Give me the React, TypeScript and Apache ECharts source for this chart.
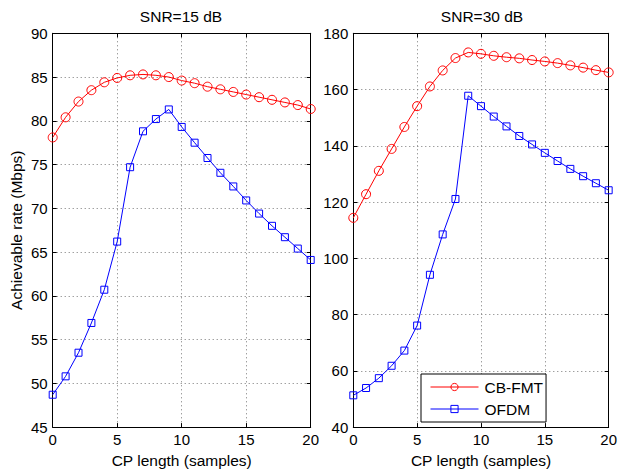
import React, { useEffect, useRef } from "react";
import * as echarts from "echarts";

const cpLength = [0, 1, 2, 3, 4, 5, 6, 7, 8, 9, 10, 11, 12, 13, 14, 15, 16, 17, 18, 19, 20];
const cbfmt15 = [78.1, 80.4, 82.2, 83.5, 84.4, 84.9, 85.2, 85.3, 85.2, 85.0, 84.6, 84.3, 83.9, 83.6, 83.3, 83.0, 82.7, 82.4, 82.1, 81.8, 81.35];
const ofdm15 = [48.7, 50.8, 53.5, 56.9, 60.7, 66.2, 74.7, 78.8, 80.2, 81.3, 79.3, 77.5, 75.75, 74.06, 72.5, 70.9, 69.4, 68.0, 66.7, 65.4, 64.1];
const cbfmt30 = [114.4, 122.8, 131.1, 138.9, 146.7, 154.1, 161.1, 166.8, 171.2, 173.2, 172.7, 172.0, 171.5, 171.1, 170.5, 170.0, 169.4, 168.6, 167.8, 166.9, 166.1];
const ofdm30 = [51.3, 53.9, 57.4, 61.8, 67.2, 76.1, 94.15, 108.5, 121.1, 157.8, 154.1, 150.4, 146.9, 143.5, 140.5, 137.5, 134.6, 131.8, 129.2, 126.7, 124.2];
const titles = ["SNR=15 dB", "SNR=30 dB"];
const seriesNames = ["CB-FMT", "OFDM"];
const xName = "CP length (samples)";
const yName = "Achievable rate (Mbps)";

const FONT = "Liberation Sans, Arial, Helvetica, sans-serif";

export default function App() {
  const ref = useRef<HTMLDivElement>(null);
  useEffect(() => {
    document.body.style.margin = "0";
    if (!ref.current) return;
    const chart = echarts.init(ref.current, null, { renderer: "svg" });
    const pair = (xs: number[], ys: number[]) => xs.map((x, i) => [x, ys[i]]);
    const splitLine = { show: true, lineStyle: { color: "#777", type: [1, 3] as any, width: 1 } };
    const axisLine = { show: true, onZero: false, lineStyle: { color: "#000", width: 1 } };
    const axisTick = { show: true, inside: true, length: 4, lineStyle: { color: "#000" } };
    const labelStyle = { color: "#000", fontSize: 15, fontFamily: FONT };

    const mkX = (gi: number) => [
      {
        type: "value", gridIndex: gi, min: 0, max: 20, interval: 5, position: "bottom",
        axisLine, axisTick, splitLine,
        axisLabel: { ...labelStyle, margin: 5 },
        name: xName, nameLocation: "middle", nameGap: 22,
        nameTextStyle: { color: "#000", fontSize: 15.5, fontFamily: FONT },
      },
      {
        type: "value", gridIndex: gi, min: 0, max: 20, interval: 5, position: "top",
        axisLine, axisTick, splitLine: { show: false }, axisLabel: { show: false },
      },
    ];
    const mkY = (gi: number, min: number, max: number, interval: number, named: boolean) => [
      {
        type: "value", gridIndex: gi, min, max, interval, position: "left",
        axisLine, axisTick, splitLine,
        axisLabel: { ...labelStyle, margin: 5 },
        name: named ? yName : "", nameLocation: "middle", nameGap: 28,
        nameTextStyle: { color: "#000", fontSize: 15.5, fontFamily: FONT },
      },
      {
        type: "value", gridIndex: gi, min, max, interval, position: "right",
        axisLine, axisTick, splitLine: { show: false }, axisLabel: { show: false },
      },
    ];
    const mkSeries = (name: string, data: number[][], color: string, symbol: string, size: number, xi: number, yi: number) => ({
      type: "line", name, data, xAxisIndex: xi, yAxisIndex: yi,
      symbol, symbolSize: size, showAllSymbol: true,
      lineStyle: { color, width: 1 },
      itemStyle: { color: "rgba(255,255,255,0)", borderColor: color, borderWidth: 1 },
      emphasis: { disabled: true },
    });

    chart.setOption({
      animation: false,
      backgroundColor: "#fff",
      title: [
        { text: titles[0], left: 181, top: 8, padding: 0, textAlign: "center", textStyle: { color: "#000", fontSize: 15.5, fontWeight: "normal", fontFamily: FONT } },
        { text: titles[1], left: 482, top: 8, padding: 0, textAlign: "center", textStyle: { color: "#000", fontSize: 15.5, fontWeight: "normal", fontFamily: FONT } },
      ],
      grid: [
        { left: 52.7, top: 33.3, width: 258, height: 398.7 },
        { left: 353.3, top: 33.3, width: 258.4, height: 398.7 },
      ],
      xAxis: [...mkX(0), ...mkX(1)],
      yAxis: [...mkY(0, 45, 90, 5, true), ...mkY(1, 40, 180, 20, false)],
      legend: {
        left: 421, top: 374, orient: "vertical",
        data: seriesNames,
        itemWidth: 48, itemHeight: 9, itemGap: 6,
        padding: [5, 3, 5, 9],
        lineStyle: { width: 1 },
        itemStyle: { borderWidth: 1 },
        borderColor: "#000", borderWidth: 1, backgroundColor: "#fff",
        textStyle: { color: "#000", fontSize: 15.5, fontFamily: FONT, padding: [0, 0, 0, 1] },
      },
      series: [
        mkSeries(seriesNames[0], pair(cpLength, cbfmt15), "#ff0000", "circle", 9, 0, 0),
        mkSeries(seriesNames[1], pair(cpLength, ofdm15), "#0000ff", "rect", 7, 0, 0),
        mkSeries(seriesNames[0], pair(cpLength, cbfmt30), "#ff0000", "circle", 9, 2, 2),
        mkSeries(seriesNames[1], pair(cpLength, ofdm30), "#0000ff", "rect", 7, 2, 2),
      ],
    });
    return () => chart.dispose();
  }, []);
  return <div ref={ref} style={{ width: 620, height: 473 }} />;
}
